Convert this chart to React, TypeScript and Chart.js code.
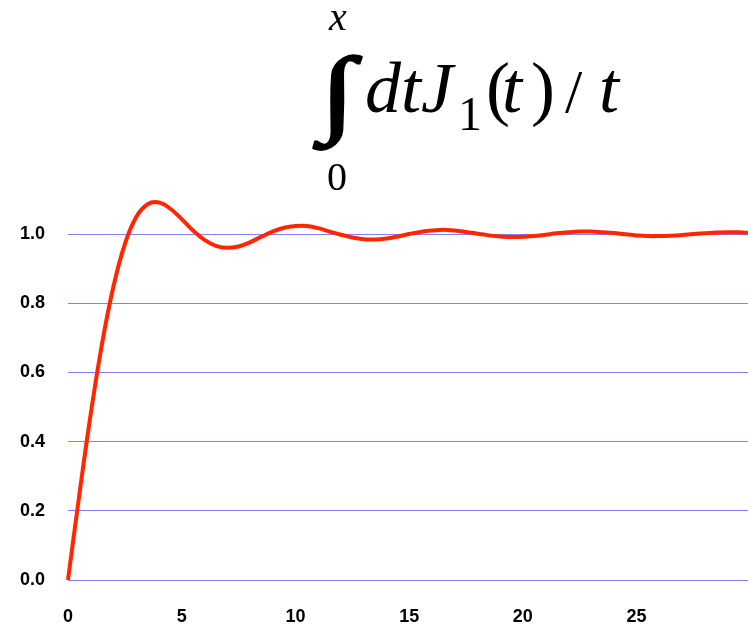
import React, { useEffect, useRef } from "react";
import { Chart, registerables } from "chart.js";

Chart.register(...registerables);

// x positions (t upper limit) and read-off values of the integral
const xValues = [
  0, 0.5, 1, 1.5, 2, 2.5, 3, 3.5, 4, 4.5, 5, 5.5, 6, 6.5, 7, 7.5, 8, 8.5, 9, 9.5,
  10, 10.5, 11, 11.5, 12, 12.5, 13, 13.5, 14, 14.5, 15, 15.5, 16, 16.5, 17, 17.5,
  18, 18.5, 19, 19.5, 20, 20.5, 21, 21.5, 22, 22.5, 23, 23.5, 24, 24.5, 25, 25.5,
  26, 26.5, 27, 27.5, 28, 28.5, 29, 29.5, 30,
];
const yValues = [
  0, 0.247, 0.48, 0.684, 0.849, 0.971, 1.049, 1.086, 1.091, 1.073, 1.043, 1.01,
  0.983, 0.966, 0.96, 0.964, 0.976, 0.992, 1.007, 1.018, 1.023, 1.023, 1.017,
  1.007, 0.998, 0.99, 0.985, 0.984, 0.987, 0.993, 1.0, 1.006, 1.01, 1.012, 1.01,
  1.006, 1.001, 0.996, 0.993, 0.991, 0.992, 0.994, 0.998, 1.002, 1.005, 1.007,
  1.007, 1.005, 1.003, 0.999, 0.996, 0.994, 0.994, 0.995, 0.997, 1.0, 1.002,
  1.004, 1.005, 1.005, 1.003,
];
const xTicks = [0, 5, 10, 15, 20, 25];
const yTicks = [0, 0.2, 0.4, 0.6, 0.8, 1.0];

const serif = '"Liberation Serif", "Times New Roman", serif';

const formulaPlugin = {
  id: "formula",
  afterDraw(chart: any) {
    const ctx = chart.ctx as CanvasRenderingContext2D;
    ctx.save();
    ctx.fillStyle = "#000";
    ctx.textAlign = "left";
    ctx.textBaseline = "alphabetic";
    const put = (text: string, font: string, inkLeft: number, baseline: number) => {
      ctx.font = font;
      const m = ctx.measureText(text);
      ctx.fillText(text, inkLeft + m.actualBoundingBoxLeft, baseline);
    };
    put("x", `italic 40px ${serif}`, 328, 30);
    put("0", `40px ${serif}`, 328, 190);
    put("dtJ", `italic 72px ${serif}`, 367, 112);
    put("1", `48px ${serif}`, 462, 130);
    put("(", `72px ${serif}`, 489, 112);
    put("t", `italic 72px ${serif}`, 505, 112);
    put(")", `72px ${serif}`, 533, 112);
    put("/", `62px ${serif}`, 565, 112);
    put("t", `italic 72px ${serif}`, 602, 112);

    // integral sign, fitted into its box
    ctx.font = `100px ${serif}`;
    const m = ctx.measureText("\u222B");
    const w = m.actualBoundingBoxLeft + m.actualBoundingBoxRight;
    const h = m.actualBoundingBoxAscent + m.actualBoundingBoxDescent;
    ctx.translate(313, 55);
    ctx.scale(49 / w, 95 / h);
    ctx.lineWidth = 2.5;
    ctx.strokeStyle = "#000";
    ctx.fillText("\u222B", m.actualBoundingBoxLeft, m.actualBoundingBoxAscent);
    ctx.strokeText("\u222B", m.actualBoundingBoxLeft, m.actualBoundingBoxAscent);
    ctx.restore();
  },
};

export default function App() {
  const ref = useRef<HTMLCanvasElement | null>(null);

  useEffect(() => {
    if (!ref.current) return;
    const tickFont = { family: '"Liberation Sans", Arial, sans-serif', size: 18, weight: "bold" as const };
    const chart = new Chart(ref.current, {
      type: "line",
      data: {
        datasets: [
          {
            data: xValues.map((x, i) => ({ x, y: yValues[i] })),
            borderColor: "rgb(255,38,0)",
            borderWidth: 4,
            pointRadius: 0,
            fill: false,
            tension: 0.4,
            clip: false as any,
          },
        ],
      },
      options: {
        responsive: false,
        devicePixelRatio: 1,
        animation: false,
        layout: { padding: { top: 199.4, left: 0, right: 0, bottom: 0 } },
        plugins: { legend: { display: false }, tooltip: { enabled: false }, title: { display: false } },
        scales: {
          x: {
            type: "linear",
            min: 0,
            max: 29.9,
            afterBuildTicks: (s: any) => {
              s.ticks = xTicks.map((v) => ({ value: v }));
            },
            afterFit: (s: any) => {
              s.height = 45;
            },
            grid: { display: false, drawTicks: false },
            border: { display: false },
            ticks: {
              color: "#000",
              font: tickFont,
              padding: 26,
              maxRotation: 0,
              callback: (v: any) => String(v),
            },
          },
          y: {
            type: "linear",
            min: 0,
            max: 1.1,
            afterBuildTicks: (s: any) => {
              s.ticks = yTicks.map((v) => ({ value: v }));
            },
            afterFit: (s: any) => {
              s.width = 68;
            },
            grid: { color: "rgb(128,128,255)", lineWidth: 1, drawTicks: false },
            border: { display: false },
            ticks: {
              color: "#000",
              font: tickFont,
              padding: 23,
              callback: (v: any) => Number(v).toFixed(1),
            },
          },
        },
      },
      plugins: [formulaPlugin],
    });
    return () => chart.destroy();
  }, []);

  return (
    <div style={{ position: "fixed", left: 0, top: 0, width: 748, height: 625, background: "#fff" }}>
      <canvas ref={ref} width={748} height={625} style={{ display: "block" }} />
    </div>
  );
}
